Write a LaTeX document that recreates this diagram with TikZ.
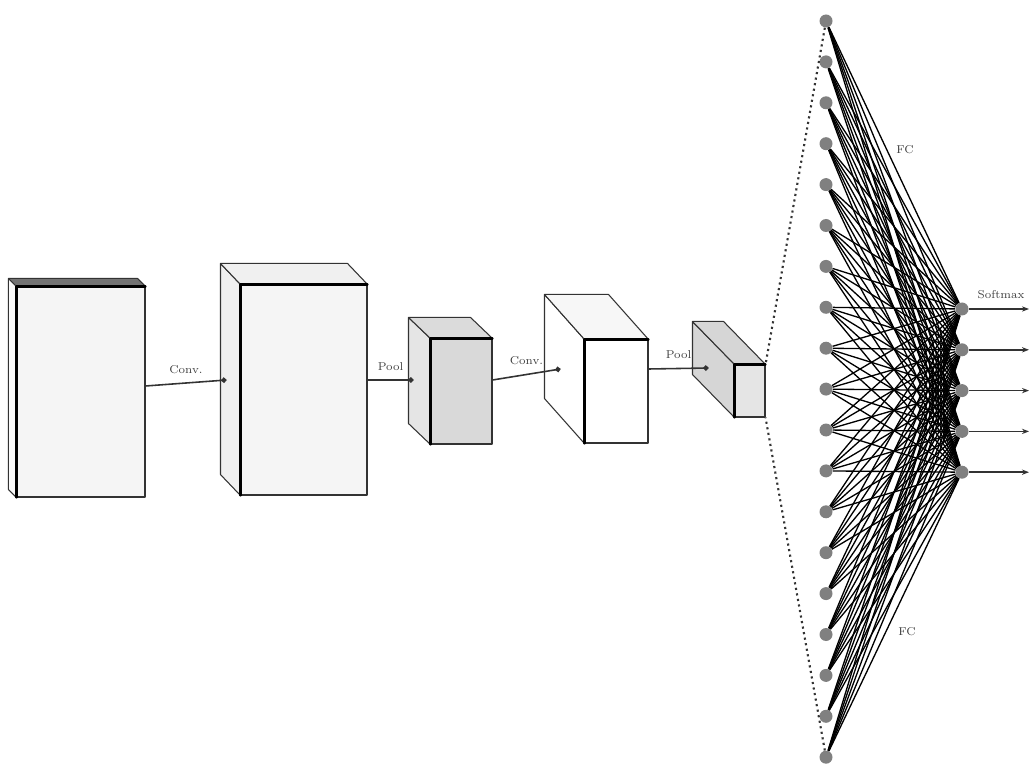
\documentclass[tikz,border=0pt]{standalone}
\usetikzlibrary{arrows.meta}
\begin{document}
\begin{tikzpicture}[
	x=0.2mm, y=-0.2mm,
	every node/.style={font=\fontsize{6.5}{8}\selectfont, text=black!75},
	face/.style={draw=black!80, line width=0.6pt, line join=round},
	front/.style={face, rectangle, inner sep=0pt},
	rim/.style={draw=black, line width=1.3pt, line cap=round, line join=round},
	flow/.style={draw=black!80, line width=0.9pt, -{Circle[length=3pt]}},
	neuron/.style={circle, fill=black!50, inner sep=0pt, minimum size=2.6mm},
	link/.style={draw=black, line width=0.75pt},
	outarrow/.style={draw=black!80, line width=0.8pt, -{Stealth[length=4pt]}},
	lead/.style={draw=black!80, dotted, line width=1.2pt}
]
\useasboundingbox (0,0) rectangle (1030,769);

\foreach \n/\x/\y/\w/\h/\dx/\dy/\cf/\cs/\ct in {
	b1/81/392/25.6/42/-8/-8/black!4/black!2/black!55,
	b2/304/390/25.2/42/-20/-21/black!4/black!6/black!6,
	b3/461.5/391.5/12.2/21/-22/-21/black!15/black!10/black!14,
	b4/616.5/391.5/12.6/20.6/-40/-45/white/white/black!3,
	b5/750/391/6/10.4/-42/-43/black!10/black!16/black!16}
{
	\node[front, fill=\cf, minimum width=\w mm, minimum height=\h mm] (\n) at (\x,\y) {};
	\draw[face, fill=\cs] (\n.north west) -- ++(\dx,\dy) -- ([shift={(\dx,\dy)}]\n.south west) -- (\n.south west) -- cycle;
	\draw[face, fill=\ct] (\n.north west) -- ++(\dx,\dy) -- ([shift={(\dx,\dy)}]\n.north east) -- (\n.north east) -- cycle;
	\draw[rim] (\n.south west) -- (\n.north west) -- (\n.north east);
}

\coordinate (d1) at ([shift={(-14,-10)}]b2.west);
\coordinate (d2) at ([shift={(-17,-11.5)}]b3.west);
\coordinate (d3) at ([shift={(-24,-22.5)}]b4.west);
\coordinate (d4) at ([shift={(-26,-23)}]b5.west);

\draw[flow] ([shift={(0,-6)}]b1.east) -- node[above, yshift=0.6mm] {Conv.} (d1);
\draw[flow] ([shift={(0,-10)}]b2.east) -- node[above, yshift=0.6mm] {Pool} (d2);
\draw[flow] ([shift={(0,-11.5)}]b3.east) -- node[above, yshift=0.6mm] {Conv.} (d3);
\draw[flow] ([shift={(0,-22.5)}]b4.east) -- node[above, yshift=0.6mm] {Pool} (d4);

\foreach \i in {1,...,19}
	\node[neuron] (in\i) at (826, {21+(\i-1)*40.9}) {};
\foreach \j in {1,...,5}
	\node[neuron] (out\j) at (962, {309+(\j-1)*40.8}) {};

\foreach \i in {1,...,19}
	\foreach \j in {1,...,5}
		\draw[link] (in\i) -- (out\j);

\foreach \j in {1,...,5} {
	\coordinate (end\j) at (1029, {309+(\j-1)*40.8});
	\draw[outarrow] (out\j) -- (end\j);
}

\draw[lead] (in1) -- (b5.north east);
\draw[lead] (in19) -- (b5.south east);

\node (fctop) at (905,150) {FC};
\node (fcbot) at (907,632) {FC};
\node (soft) at (1001,295) {Softmax};
\end{tikzpicture}
\end{document}
